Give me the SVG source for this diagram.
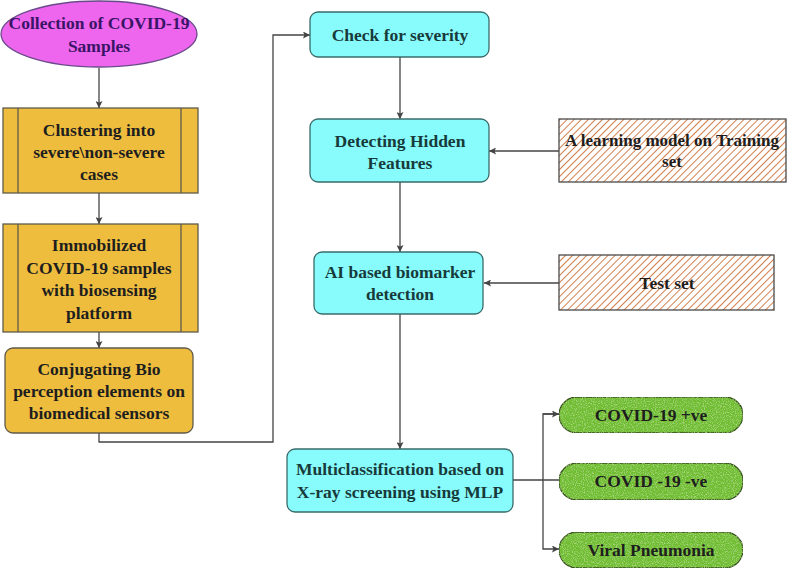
<svg xmlns="http://www.w3.org/2000/svg" width="787" height="569" viewBox="0 0 787 569" font-family="'Liberation Serif', 'DejaVu Serif', serif">
<style>
text{font-family:'Liberation Serif','DejaVu Serif',serif;font-weight:700;font-size:17.5px;text-anchor:middle;fill:#1e1e1e}
.gold{fill:#eebd3e;stroke:#5f5a4a;stroke-width:1.3}
.cyan{fill:#88fcfc;stroke:#3a6b6b;stroke-width:1.3}
.hatch{fill:url(#hp);stroke:#4a4a4a;stroke-width:1.3}
.green{fill:#6fbd33;stroke:#34501c;stroke-width:1.3}
.conn{fill:none;stroke:#444;stroke-width:1.3}
.ct{fill:#173a3a}
.pt{fill:#3a1466}
</style>
<defs>
<marker id="ah" viewBox="0 0 10 10" refX="10" refY="5" markerWidth="7" markerHeight="7" orient="auto" markerUnits="userSpaceOnUse">
<path d="M0,0 L10,5 L0,10 L2,5 z" fill="#444"/>
</marker>
<pattern id="hp" width="5" height="5" patternUnits="userSpaceOnUse" patternTransform="rotate(45)">
<rect width="5" height="5" fill="#fff"/>
<line x1="0.5" y1="0" x2="0.5" y2="5" stroke="#d2804f" stroke-width="1"/>
</pattern>
<filter id="grass" x="0" y="0" width="100%" height="100%">
<feTurbulence type="fractalNoise" baseFrequency="0.9" numOctaves="2" seed="3" result="n"/>
<feColorMatrix in="n" type="matrix" values="0 0 0 0 0.62  0 0 0 0 0.85  0 0 0 0 0.35  0 0 0 1.6 -0.75" result="spots"/>
<feComposite in="spots" in2="SourceGraphic" operator="in" result="s2"/>
<feMerge><feMergeNode in="SourceGraphic"/><feMergeNode in="s2"/></feMerge>
</filter>
</defs>

<g id="connectors">
<line class="conn" x1="99" y1="68" x2="99" y2="108" marker-end="url(#ah)"/>
<line class="conn" x1="99" y1="193" x2="99" y2="224" marker-end="url(#ah)"/>
<line class="conn" x1="99" y1="332" x2="99" y2="348" marker-end="url(#ah)"/>
<polyline class="conn" points="99,433 99,442 273,442 273,35 310,35" marker-end="url(#ah)"/>
<line class="conn" x1="400" y1="57" x2="400" y2="119" marker-end="url(#ah)"/>
<line class="conn" x1="559" y1="151" x2="489" y2="151" marker-end="url(#ah)"/>
<line class="conn" x1="400" y1="182" x2="400" y2="252" marker-end="url(#ah)"/>
<line class="conn" x1="559" y1="283" x2="484" y2="283" marker-end="url(#ah)"/>
<line class="conn" x1="400" y1="314" x2="400" y2="449" marker-end="url(#ah)"/>
<line class="conn" x1="513" y1="480" x2="559" y2="480"/>
<polyline class="conn" points="559,414 543,414 543,549 559,549" marker-end="url(#ah)"/>
<polyline class="conn" points="543,414 559,414" marker-end="url(#ah)"/>
</g>

<g id="collection">
<ellipse cx="99" cy="34" rx="98" ry="33" fill="#ee66ee" stroke="#6a4a8a" stroke-width="1.3"/>
<text class="pt" x="99" y="29">Collection of COVID-19</text>
<text class="pt" x="99" y="52">Samples</text>
</g>

<g id="clustering">
<rect class="gold" x="3" y="108" width="195" height="85"/>
<line class="gold" x1="18" y1="108" x2="18" y2="193"/>
<line class="gold" x1="181" y1="108" x2="181" y2="193"/>
<text x="99" y="136">Clustering into</text>
<text x="99" y="158">severe\non-severe</text>
<text x="99" y="180">cases</text>
</g>

<g id="immobilized">
<rect class="gold" x="3" y="224" width="195" height="108"/>
<line class="gold" x1="18" y1="224" x2="18" y2="332"/>
<line class="gold" x1="181" y1="224" x2="181" y2="332"/>
<text x="99" y="251">Immobilized</text>
<text x="99" y="274">COVID-19 samples</text>
<text x="99" y="296">with biosensing</text>
<text x="99" y="319">platform</text>
</g>

<g id="conjugating">
<rect class="gold" x="5" y="348" width="188" height="85" rx="8"/>
<text x="99" y="375">Conjugating Bio</text>
<text x="99" y="397">perception elements on</text>
<text x="99" y="419">biomedical sensors</text>
</g>

<g id="check">
<rect class="cyan" x="310" y="12" width="179" height="45" rx="8"/>
<text class="ct" x="400" y="41">Check for severity</text>
</g>

<g id="detecting">
<rect class="cyan" x="310" y="119" width="179" height="63" rx="8"/>
<text class="ct" x="400" y="147">Detecting Hidden</text>
<text class="ct" x="400" y="169">Features</text>
</g>

<g id="training">
<rect class="hatch" x="559" y="119" width="227" height="63"/>
<text x="672" y="146" style="font-size:17px">A learning model on Training</text>
<text x="672" y="167" style="font-size:17px">set</text>
</g>

<g id="ai">
<rect class="cyan" x="314" y="252" width="169" height="62" rx="8"/>
<text class="ct" x="400" y="278">AI based biomarker</text>
<text class="ct" x="400" y="300">detection</text>
</g>

<g id="testset">
<rect class="hatch" x="559" y="255" width="215" height="55"/>
<text x="667" y="289">Test set</text>
</g>

<g id="multi">
<rect class="cyan" x="287" y="449" width="226" height="63" rx="8"/>
<text class="ct" x="400" y="475">Multiclassification based on</text>
<text class="ct" x="400" y="498">X-ray screening using MLP</text>
</g>

<g id="pos">
<rect class="green" x="559" y="397" width="184" height="36" rx="18" filter="url(#grass)"/>
<text x="651" y="421">COVID-19 +ve</text>
</g>

<g id="neg">
<rect class="green" x="559" y="463" width="184" height="37" rx="18" filter="url(#grass)"/>
<text x="651" y="487">COVID -19 -ve</text>
</g>

<g id="viral">
<rect class="green" x="559" y="532" width="184" height="36" rx="18" filter="url(#grass)"/>
<text x="651" y="556">Viral Pneumonia</text>
</g>
</svg>
